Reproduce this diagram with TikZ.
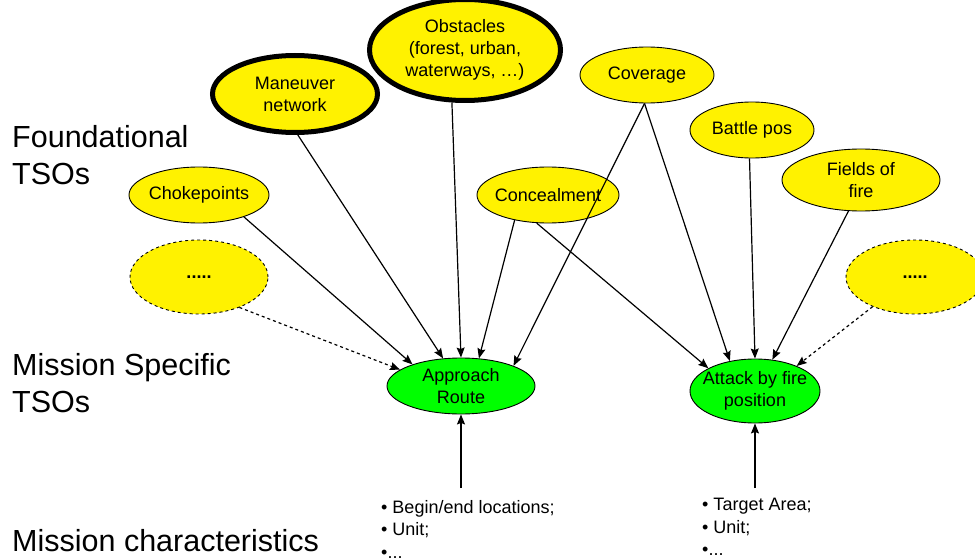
\documentclass[tikz,border=0pt]{standalone}
\usepackage{fontspec}
\setmainfont{Liberation Sans}
\usetikzlibrary{shapes,arrows.meta}

\begin{document}
\begin{tikzpicture}[ x=1pt, y=-1pt, >={Stealth[length=10pt,width=8pt,inset=1.5pt]},
        tso/.style={ ellipse, draw, fill=yellow, line width=0.9pt,
          inner sep=0pt },
        key/.style={ tso, line width=5pt },
        more/.style={ tso, dashed },
        mst/.style={ tso, fill=green },
        link/.style={ ->, line width=1.2pt },
        maybe/.style={ link, dashed },
        every label/.style={ align=center, inner sep=0pt,
          font=\fontsize{18}{22}\selectfont },
        side/.style={ anchor=west, align=left, inner sep=0pt,
          font=\fontsize{30.5}{37.5}\selectfont },
        facts/.style={ anchor=north west, align=left, inner sep=0pt,
          font=\fontsize{18}{22.5}\selectfont } ]
        \useasboundingbox (0,0) rectangle (975,559);

        \node[key,minimum width=165pt,minimum height=77pt,
          label=center:{Maneuver\\network}] (maneuver) at (295,94) {};
        \node[key,minimum width=191pt,minimum height=101pt,
          label=center:{Obstacles\\(forest, urban,\\waterways, …)}] (obst) at (465,50) {};

        \foreach \n/\x/\y/\w/\h/\l in {cover/647/75/134/56/Coverage,
          battle/752/130/124/56/Battle pos,
          fields/861/180/158/62/{Fields of\\fire},
          conceal/548/195/142/56/Concealment,
          choke/199/195/140/56/Chokepoints}
        \node[tso,minimum width=\w pt,minimum height=\h pt,
          label=center:{\l}] (\n) at (\x,\y) {};

        \node[more,minimum width=138pt,minimum height=74pt,
          label=center:{\textbf{.....}}] (moreL) at (199,277) {};
        \node[more,minimum width=138pt,minimum height=74pt,
          label=center:{\textbf{.....}}] (moreR) at (915,277) {};

        \node[mst,minimum width=148pt,minimum height=56pt,
          label=center:{Approach\\Route}] (route) at (461,386) {};
        \node[mst,minimum width=130pt,minimum height=64pt,
          label=center:{Attack by fire\\position}] (attack) at (755,391) {};

        \node[side] (found) at (12,155) {Foundational\\TSOs};
        \node[side] (mspec) at (12,383) {Mission Specific\\TSOs};
        \node[side] (mchar) at (12,541) {Mission characteristics};

        \node[facts] (factsR) at (381,500) {• Begin/end locations;\\• Unit;\\•...};
        \node[facts] (factsA) at (702,498) {• Target Area;\\• Unit;\\•...};
        \coordinate (inR) at (461,488);
        \coordinate (inA) at (755,488);

        \foreach \s/\a/\b in {choke/-26/156,maneuver/-86/123,obst/-104/90,
          conceal/-143/57,cover/-95/21}
        \draw[link] (\s.\a) -- (route.\b);
        \foreach \s/\a/\b in {conceal/-112/154,cover/-95/130,battle/-95/90,
          fields/-112/61}
        \draw[link] (\s.\a) -- (attack.\b);
        \draw[maybe] (moreL.-37) -- (route.165);
        \draw[maybe] (moreR.-145) -- (attack.31);
        \draw[link] (inR) -- (route); \draw[link] (inA) -- (attack);
      \end{tikzpicture}
\end{document}
